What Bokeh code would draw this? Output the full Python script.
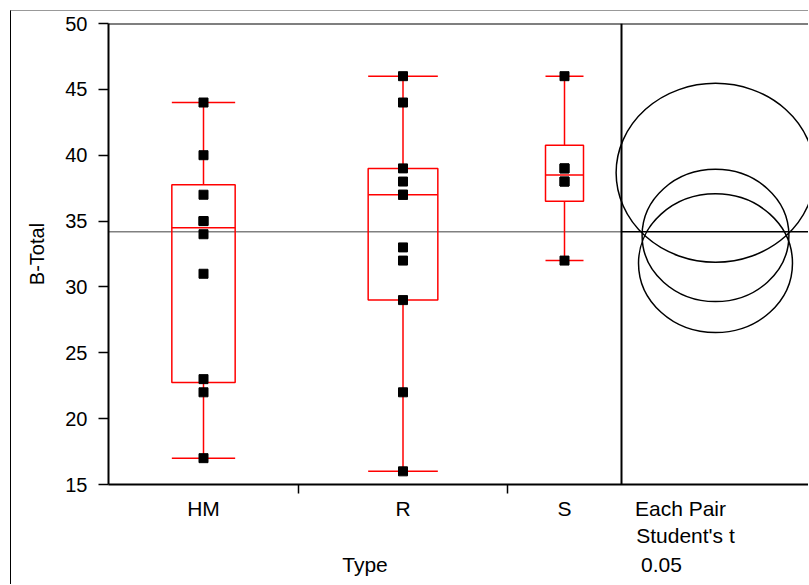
import math
from bokeh.plotting import figure
from bokeh.models import FixedTicker, Span, LinearAxis
from bokeh.embed import file_html
from bokeh.resources import INLINE

# ---- data ----
categories = ["HM", "R", "S"]
hm_values = [17, 22, 23, 31, 34, 35, 35, 37, 40, 44]
r_values = [16, 22, 29, 32, 33, 37, 37, 38, 39, 44, 46]
s_values = [32, 38, 38, 39, 39, 46]
y_ticks = [15, 20, 25, 30, 35, 40, 45, 50]
y_label = "B-Total"
x_label = "Type"
compare_lines = ["Each Pair", "Student's t", "0.05"]
t_crit = 2.064  # Student's t, alpha 0.05, df 24

groups = [hm_values, r_values, s_values]

# ---- statistics ----
def jmp_quantile(v, q):
    s = sorted(v)
    n = len(s)
    p = (n + 1) * q
    k = int(math.floor(p))
    f = p - k
    if k < 1:
        return s[0]
    if k >= n:
        return s[-1]
    return s[k - 1] + f * (s[k] - s[k - 1])

sizes = [len(g) for g in groups]
total_n = sum(sizes)
lefts = []
acc = 0
for n in sizes:
    lefts.append(acc)
    acc += n
centers = [l + n / 2 for l, n in zip(lefts, sizes)]
halfw = [n / 6 for n in sizes]
q1 = [jmp_quantile(g, 0.25) for g in groups]
med = [jmp_quantile(g, 0.5) for g in groups]
q3 = [jmp_quantile(g, 0.75) for g in groups]
mins = [min(g) for g in groups]
maxs = [max(g) for g in groups]
means = [sum(g) / len(g) for g in groups]
grand_mean = sum(sum(g) for g in groups) / total_n
sse = sum(sum((v - m) ** 2 for v in g) for g, m in zip(groups, means))
mse = sse / (total_n - len(groups))
radii = [t_crit * math.sqrt(mse / n) for n in sizes]

# ---- layout ----
FONT = "Liberation Sans"
W, H = 798, 574
frame_left, frame_top, frame_bottom = 97, 12, 473
frame_w = W - frame_left
frame_h = frame_bottom - frame_top
px_x = 513 / total_n            # pixels per observation unit
px_y = frame_h / (50 - 15)
x_end = frame_w / px_x
circle_x = total_n + (x_end - total_n) / 2
stretch = 1.11
page_x0 = 108                   # page pixel of x = 0

def xpos(page_px):
    return (page_px - page_x0) / px_x

p = figure(width=W, height=H, x_range=(0, x_end), y_range=(15, 50),
           output_backend="svg", toolbar_location=None,
           min_border_left=frame_left, min_border_right=0,
           min_border_top=frame_top, min_border_bottom=H - frame_bottom)
p.margin = (10, 0, 0, 10)
p.styles = {"border-top": "1px solid #999999", "border-left": "1px solid #000000"}
p.outline_line_color = None
p.grid.visible = False
p.background_fill_color = "white"
p.border_fill_color = "white"

# y axis
p.yaxis.ticker = FixedTicker(ticks=y_ticks)
p.yaxis.major_tick_out = 10
p.yaxis.major_tick_in = 0
p.yaxis.minor_tick_line_color = None
p.yaxis.axis_line_width = 2
p.yaxis.major_tick_line_width = 1.5
p.yaxis.major_label_text_font = FONT
p.yaxis.major_label_text_font_size = "20px"
p.yaxis.major_label_text_color = "black"
p.yaxis.major_label_standoff = 11
p.yaxis.axis_label = y_label
p.yaxis.axis_label_text_font = FONT
p.yaxis.axis_label_text_font_size = "20px"
p.yaxis.axis_label_text_font_style = "normal"
p.yaxis.axis_label_text_color = "black"
p.yaxis.axis_label_standoff = 14

# x axis: categories + first line of the comparison note
label_each = xpos(635 + 45)
label_student = xpos(635 + 50)
label_type = total_n / 2
label_alpha = xpos(641 + 20)

ax1 = p.below[0]
ax1.ticker = FixedTicker(ticks=centers + [label_each], minor_ticks=lefts[1:])
ax1.major_label_overrides = dict(zip(centers + [label_each], categories + [compare_lines[0]]))
ax1.major_tick_out = 0
ax1.major_tick_in = 0
ax1.minor_tick_out = 9
ax1.minor_tick_in = 0
ax1.minor_tick_line_width = 1.5
ax1.minor_tick_line_color = "black"
ax1.axis_line_width = 2
ax1.major_label_text_font = FONT
ax1.major_label_text_font_size = "21px"
ax1.major_label_text_color = "black"
ax1.major_label_standoff = 3

def text_axis(ticks, labels, standoff):
    ax = LinearAxis(ticker=FixedTicker(ticks=ticks, minor_ticks=[]),
                    major_label_overrides=dict(zip(ticks, labels)),
                    axis_line_color=None, major_tick_line_color=None,
                    minor_tick_line_color=None, major_tick_out=0, major_tick_in=0,
                    major_label_text_font=FONT, major_label_text_font_size="21px",
                    major_label_text_color="black", major_label_standoff=standoff)
    p.add_layout(ax, "below")
    return ax

text_axis([label_student], [compare_lines[1]], 1)
text_axis([label_type, label_alpha], [x_label, compare_lines[2]], 3)

# frame top line and panel separator
p.add_layout(Span(location=50, dimension="width", line_color="black", line_width=2))
p.add_layout(Span(location=total_n, dimension="height", line_color="black", line_width=2))

# grand mean line
p.segment(x0=[0], y0=[grand_mean], x1=[total_n], y1=[grand_mean], line_color="#808080", line_width=1.5)
p.segment(x0=[total_n], y0=[grand_mean], x1=[x_end], y1=[grand_mean], line_color="black", line_width=1.5)

RED = "#ff0000"
bl = [c - h for c, h in zip(centers, halfw)]
br = [c + h for c, h in zip(centers, halfw)]
p.quad(left=bl, right=br, bottom=q1, top=q3, fill_color=None, line_color=RED, line_width=1.5)
p.segment(x0=bl, y0=med, x1=br, y1=med, line_color=RED, line_width=1.5)
p.segment(x0=centers, y0=q3, x1=centers, y1=maxs, line_color=RED, line_width=1.5)
p.segment(x0=centers, y0=q1, x1=centers, y1=mins, line_color=RED, line_width=1.5)
p.segment(x0=bl, y0=maxs, x1=br, y1=maxs, line_color=RED, line_width=1.5)
p.segment(x0=bl, y0=mins, x1=br, y1=mins, line_color=RED, line_width=1.5)

# points
px, py = [], []
for c, g in zip(centers, groups):
    for v in g:
        px.append(c)
        py.append(v)
p.scatter(px, py, marker="square", size=9, fill_color="black", line_color="black")

# comparison circles
p.ellipse(x=[circle_x] * len(groups), y=means,
          width=[2 * r * stretch * px_y / px_x for r in radii],
          height=[2 * r for r in radii],
          fill_color=None, line_color="black", line_width=1.5)

open("out.html", "w").write(file_html(p, INLINE))
